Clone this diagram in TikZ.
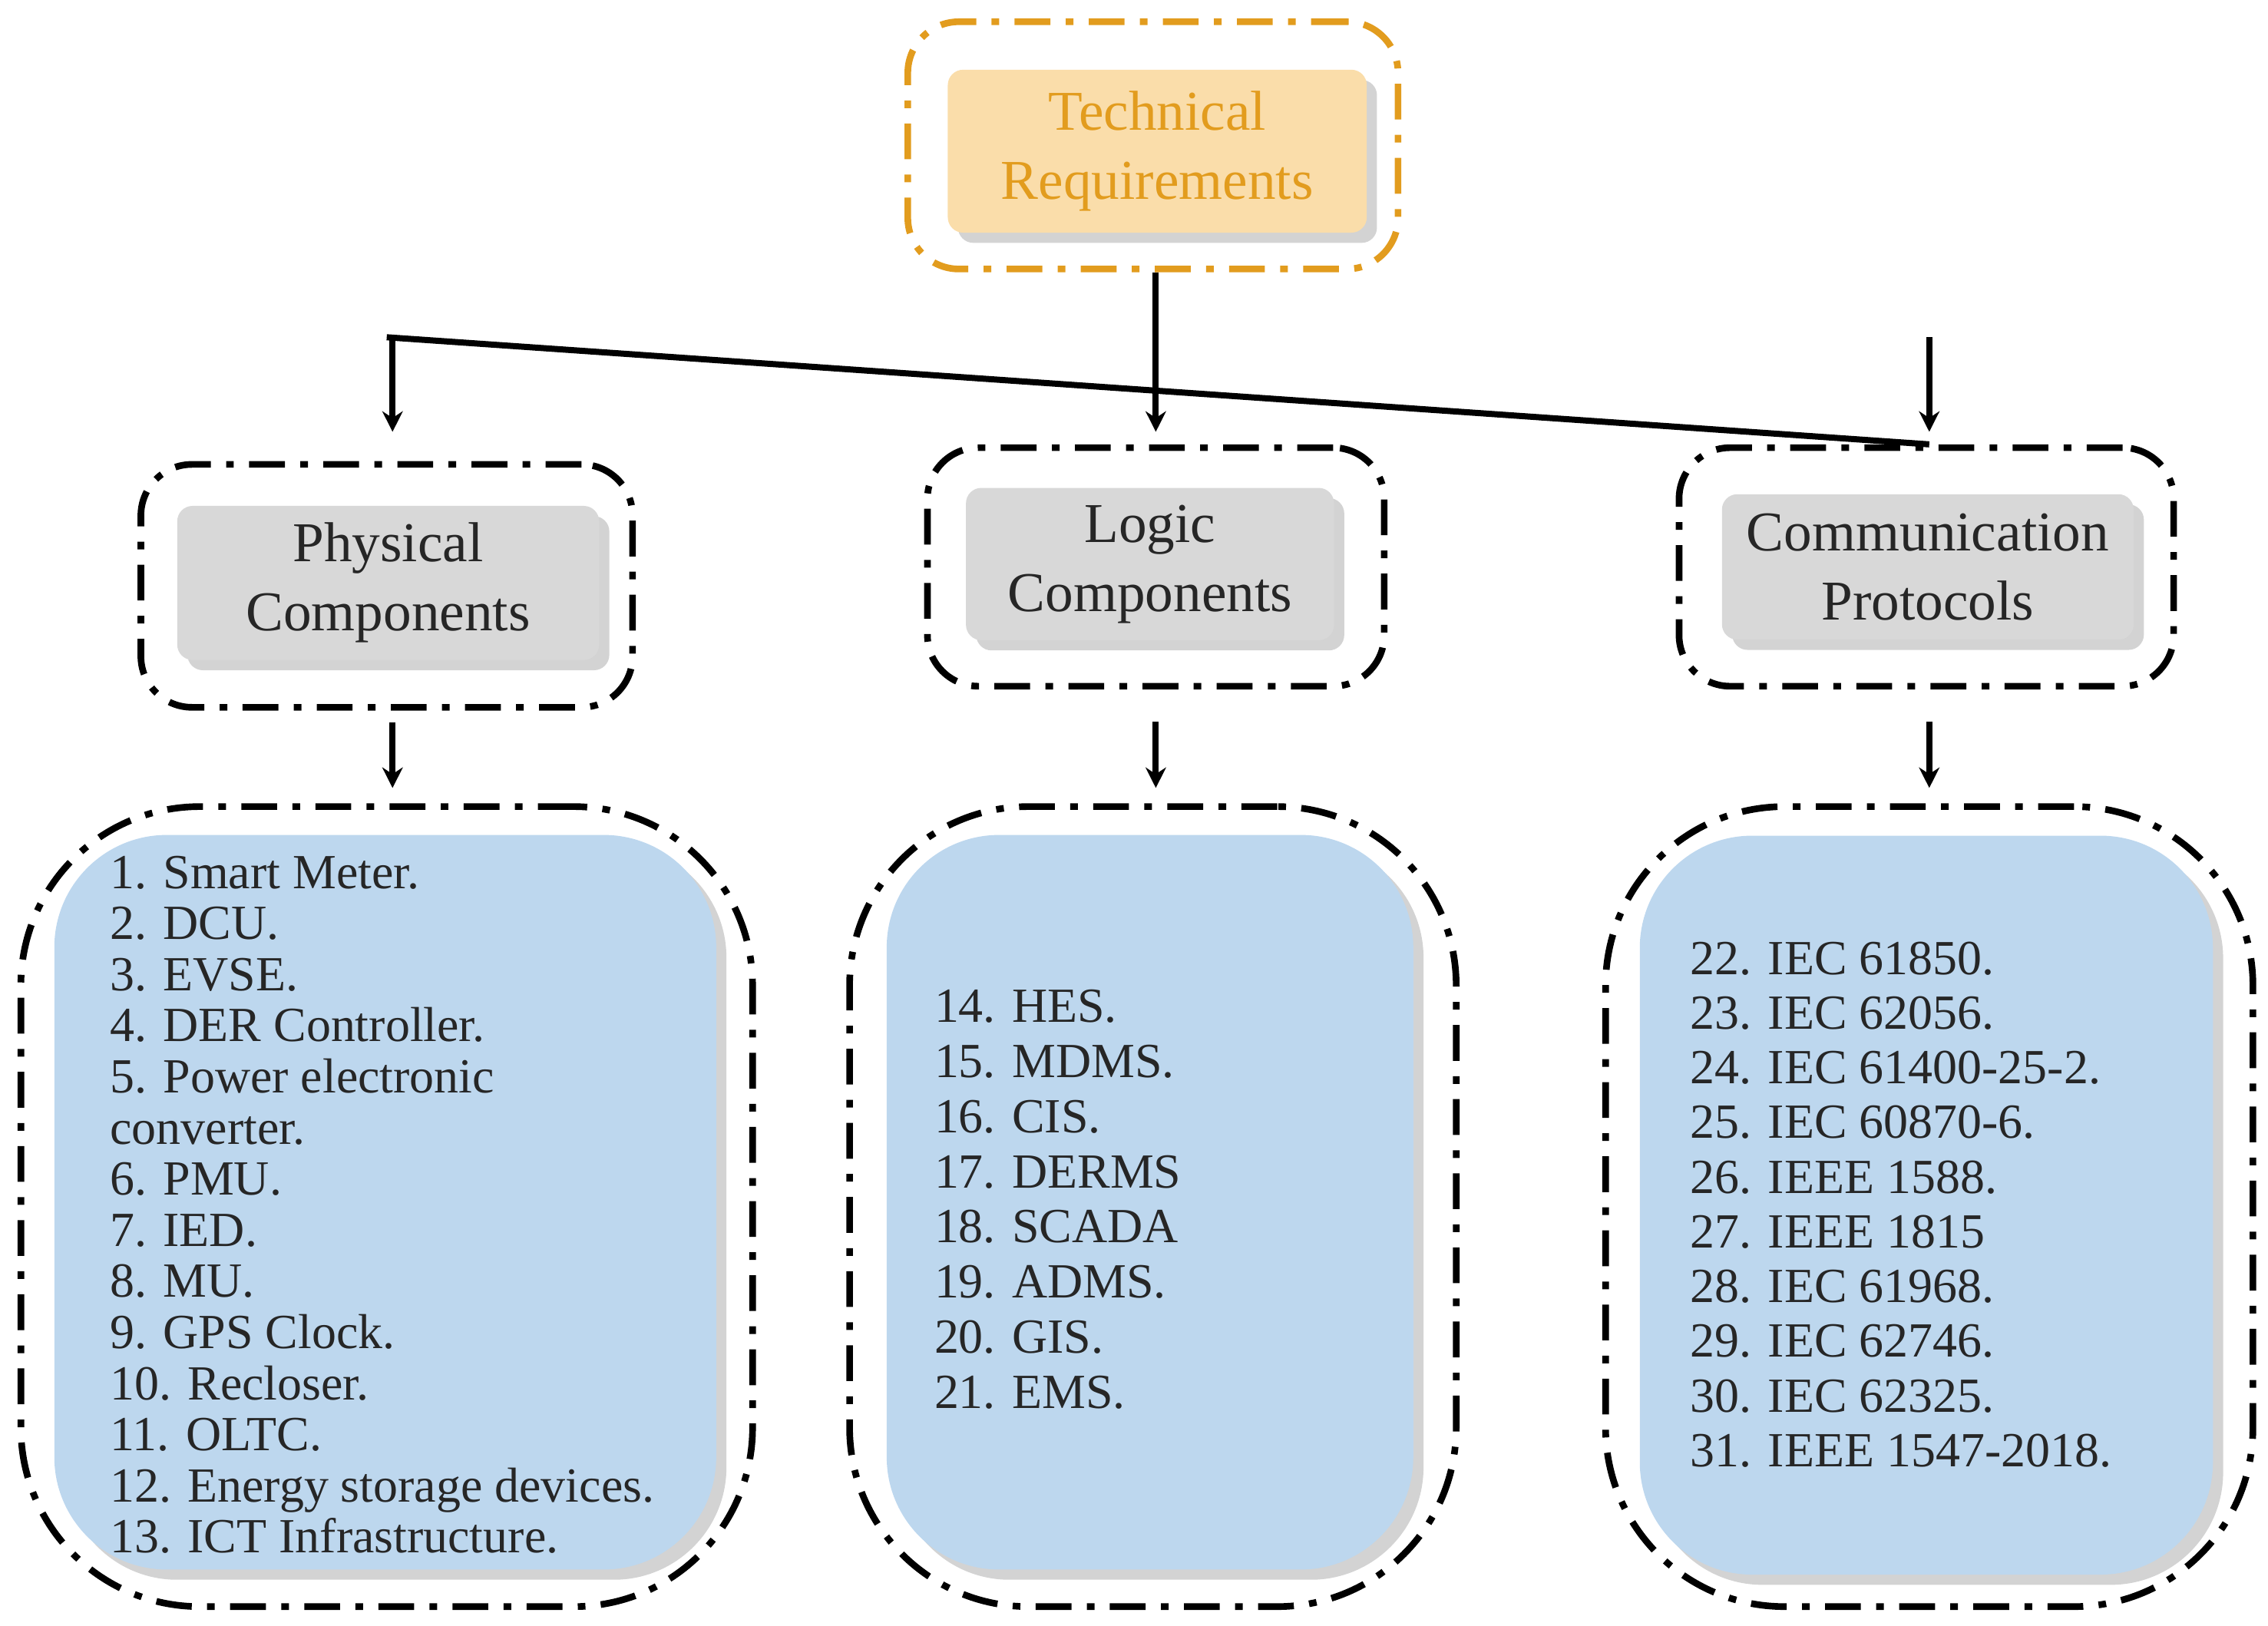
\documentclass[tikz,border=0pt]{standalone}
\usepackage{fontspec}
\setmainfont{Liberation Serif}
\usetikzlibrary{arrows.meta, positioning, shadows}
\definecolor{topfill}{RGB}{250,221,170}
\definecolor{toptext}{RGB}{226,156,30}
\definecolor{greyfill}{RGB}{216,216,216}
\definecolor{bluefill}{RGB}{189,215,238}
\tikzset{
  frame/.style={draw, line width=1.3pt, dash pattern=on 7pt off 3pt on 1.5pt off 3pt, rounded corners=10pt, minimum width=#1},
  head/.style={fill=greyfill, rounded corners=3pt, drop shadow={shadow xshift=2pt, shadow yshift=-2pt, opacity=0.35}, align=center, font=\fontsize{11}{13.5}\selectfont, text=black!85},
  list/.style={fill=bluefill, rounded corners=22pt, drop shadow={shadow xshift=2pt, shadow yshift=-2pt, opacity=0.35}},
  items/.style={align=left, anchor=north west, inner sep=0pt, font=\fontsize{9.6}{#1}\selectfont, text=black!85},
  link/.style={line width=1.2pt, -{Stealth[length=4pt,width=4pt]}}
}
\begin{document}
\begin{tikzpicture}[x=0.01cm, y=-0.01cm]
\useasboundingbox (0,0) rectangle (1560,1118);
% top
\node (TRf) [frame=0pt, draw=toptext, minimum width=3.37cm, minimum height=1.70cm] at (793,100) {};
\node (TR) [head, fill=topfill, text=toptext, minimum width=2.88cm, minimum height=1.12cm] at (796,104) {Technical\\Requirements};
% second row
\node (PCf) [frame=0pt, minimum width=3.38cm, minimum height=1.67cm] at (266,403) {};
\node (PC) [head, minimum width=2.90cm, minimum height=1.03cm] at (267,401) {Physical\\Components};
\node (LCf) [frame=0pt, minimum width=3.14cm, minimum height=1.64cm] at (795,390) {};
\node (LC) [head, minimum width=2.53cm, minimum height=1.03cm] at (791,388) {Logic\\Components};
\node (CPf) [frame=0pt, minimum width=3.40cm, minimum height=1.64cm] at (1325,390) {};
\node (CP) [head, minimum width=2.83cm, minimum height=1.00cm] at (1326,390) {Communication\\Protocols};
% lists
\node (PLf) [frame=0pt, rounded corners=35pt, minimum width=5.03cm, minimum height=5.50cm] at (266,830) {};
\node (PL) [list, minimum width=4.55cm, minimum height=5.05cm] at (265,827) {};
\node (LLf) [frame=0pt, rounded corners=35pt, minimum width=4.17cm, minimum height=5.50cm] at (793,830) {};
\node (LL) [list, minimum width=3.62cm, minimum height=5.05cm] at (791,827) {};
\node (CLf) [frame=0pt, rounded corners=35pt, minimum width=4.45cm, minimum height=5.50cm] at (1327,830) {};
\node (CL) [list, minimum width=3.94cm, minimum height=5.08cm] at (1325,829) {};
\node (Pitems) [items=10pt] at (75,588) {1. Smart Meter.\\2. DCU.\\3. EVSE.\\4. DER Controller.\\5. Power electronic\\converter.\\6. PMU.\\7. IED.\\8. MU.\\9. GPS Clock.\\10. Recloser.\\11. OLTC.\\12. Energy storage devices.\\13. ICT Infrastructure.};
\node (Litems) [items=10.8pt] at (642,680) {14. HES.\\15. MDMS.\\16. CIS.\\17. DERMS\\18. SCADA\\19. ADMS.\\20. GIS.\\21. EMS.};
\node (Citems) [items=10.7pt] at (1162,647) {22. IEC 61850.\\23. IEC 62056.\\24. IEC 61400-25-2.\\25. IEC 60870-6.\\26. IEEE 1588.\\27. IEEE 1815\\28. IEC 61968.\\29. IEC 62746.\\30. IEC 62325.\\31. IEEE 1547-2018.};
% connectors
\coordinate (bus) at (795,232);
\draw [line width=1.2pt] (PCf.north |- bus) -- (CPf.north -| 1327,0 |- bus);
\draw [line width=1.2pt] (TRf.south -| bus) -- (bus);
\draw [link] (270,232) -- (270,297);
\draw [link] (bus) -- (795,297);
\draw [link] (1327,232) -- (1327,297);
\draw [link] (PCf.south -| 270,0) ++(0,8) -- (270,542);
\draw [link] (LCf.south -| 795,0) ++(0,22) -- (795,542);
\draw [link] (CPf.south -| 1327,0) ++(0,22) -- (1327,542);
\end{tikzpicture}
\end{document}
